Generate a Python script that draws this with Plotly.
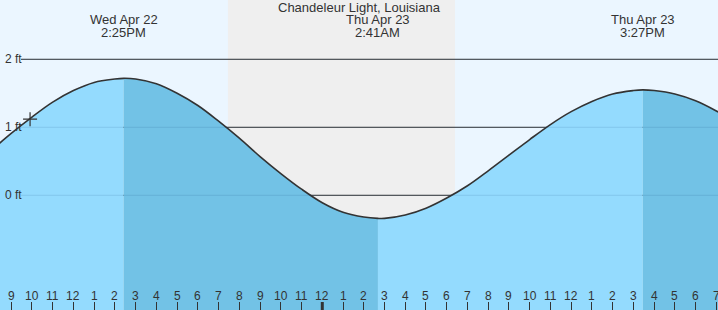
import plotly.graph_objects as go

# ---- data (hours since Wed Apr 22 00:00, tide height in ft) ----
hours = [8, 9, 10, 11, 12, 13, 14, 14.417, 15, 16, 17, 18, 19, 20, 21, 22, 23, 24, 25, 26,
         26.683, 27, 28, 29, 30, 31, 32, 33, 34, 35, 36, 37, 38, 39, 39.45, 40, 41, 42, 43, 44]
heights = [0.65, 0.91, 1.15, 1.37, 1.54, 1.66, 1.71, 1.72, 1.71, 1.64, 1.50, 1.32, 1.09, 0.84,
           0.57, 0.32, 0.09, -0.11, -0.25, -0.32, -0.34, -0.34, -0.29, -0.19, -0.04, 0.14, 0.36,
           0.59, 0.82, 1.04, 1.23, 1.38, 1.49, 1.54, 1.55, 1.54, 1.49, 1.39, 1.24, 1.06]

extremes_t = [14.417, 26.683, 39.45]
extremes_day = ["Wed Apr 22", "Thu Apr 23", "Thu Apr 23"]
extremes_time = ["2:25PM", "2:41AM", "3:27PM"]

night_start, night_end = 19.45, 30.40
now_t, now_h = 9.91, 1.12

tick_hours = list(range(9, 44))
tick_labels = [str((h - 1) % 12 + 1) for h in tick_hours]
grid_ft = [0, 1, 2]
grid_labels = ["0 ft", "1 ft", "2 ft"]

title = "Chandeleur Light, Louisiana"

W, H = 718, 310
XMIN, XMAX = 8.46, 43.08
YMIN, YMAX = -1.687, 2.872

DAY_BG = "#ebf6ff"
NIGHT_BG = "#efefef"
RISE = "#94dbfe"
FALL = "#72c2e6"
INK = "#333333"

fig = go.Figure()

# fill segments between extrema
cuts = [0] + [hours.index(t) for t in extremes_t] + [len(hours) - 1]
for i in range(len(cuts) - 1):
    a, b = cuts[i], cuts[i + 1]
    xs = hours[a:b + 1]
    ys = heights[a:b + 1]
    col = RISE if i % 2 == 0 else FALL
    fig.add_trace(go.Scatter(x=xs, y=[YMIN] * len(xs), mode="lines",
                             line=dict(width=0, color=col), hoverinfo="skip", showlegend=False))
    fig.add_trace(go.Scatter(x=xs, y=ys, mode="lines", fill="tonexty", fillcolor=col,
                             line=dict(width=0, color=col, shape="spline"),
                             hoverinfo="skip", showlegend=False))

# curve
fig.add_trace(go.Scatter(x=hours, y=heights, mode="lines",
                         line=dict(color=INK, width=1.6, shape="spline"),
                         hoverinfo="skip", showlegend=False))
# current marker
fig.add_trace(go.Scatter(x=[now_t], y=[now_h], mode="markers",
                         marker=dict(symbol="cross-thin", size=10,
                                     line=dict(color=INK, width=1.2)),
                         hoverinfo="skip", showlegend=False))

shapes = []
shapes.append(dict(type="rect", xref="paper", yref="paper", x0=0, x1=1, y0=0, y1=1,
                   fillcolor=DAY_BG, line=dict(width=0), layer="below"))
shapes.append(dict(type="rect", xref="x", yref="paper", x0=night_start, x1=night_end, y0=0, y1=1,
                   fillcolor=NIGHT_BG, line=dict(width=0), layer="below"))
for g in grid_ft:
    shapes.append(dict(type="line", xref="paper", yref="y", x0=21 / W, x1=1, y0=g, y1=g,
                       line=dict(color=INK, width=1), layer="below"))
    shapes.append(dict(type="line", xref="paper", yref="y", x0=21 / W, x1=1, y0=g, y1=g,
                       line=dict(color="rgba(0,60,110,0.12)", width=1), layer="above"))
# midnight tick (thicker)
shapes.append(dict(type="line", xref="x", yref="paper", x0=24, x1=24, y0=0, y1=8 / H,
                   line=dict(color=INK, width=3), layer="above"))

annotations = []
annotations.append(dict(text=title, xref="paper", yref="paper", x=0.5, y=1 - 8 / H,
                        xanchor="center", yanchor="middle", showarrow=False,
                        font=dict(size=13, color=INK)))
for t, d, tm in zip(extremes_t, extremes_day, extremes_time):
    annotations.append(dict(text=d, xref="x", yref="paper", x=t, y=1 - 20 / H,
                            xanchor="center", yanchor="middle", showarrow=False,
                            font=dict(size=13, color=INK)))
    annotations.append(dict(text=tm, xref="x", yref="paper", x=t, y=1 - 32 / H,
                            xanchor="center", yanchor="middle", showarrow=False,
                            font=dict(size=13, color=INK)))
for g, lab in zip(grid_ft, grid_labels):
    annotations.append(dict(text=lab, xref="paper", yref="y", x=3 / W, y=g,
                            xanchor="left", yanchor="middle", showarrow=False,
                            font=dict(size=12, color=INK)))
for h, lab in zip(tick_hours, tick_labels):
    annotations.append(dict(text=lab, xref="x", yref="paper", x=h, y=1 - 296 / H,
                            xanchor="center", yanchor="middle", showarrow=False,
                            font=dict(size=12, color=INK)))

fig.update_layout(
    width=W, height=H, margin=dict(l=0, r=0, t=0, b=0),
    paper_bgcolor=DAY_BG, plot_bgcolor=DAY_BG,
    font=dict(family="Liberation Sans, Arial, sans-serif", size=12, color=INK),
    shapes=shapes, annotations=annotations, showlegend=False,
    xaxis=dict(range=[XMIN, XMAX], showgrid=False, zeroline=False, showline=False,
               tickvals=tick_hours, ticktext=[""] * len(tick_hours),
               ticks="inside", ticklen=8, tickwidth=1, tickcolor=INK, fixedrange=True),
    yaxis=dict(range=[YMIN, YMAX], showgrid=False, zeroline=False, showline=False,
               showticklabels=False, fixedrange=True),
)

fig.write_html("out.html")
